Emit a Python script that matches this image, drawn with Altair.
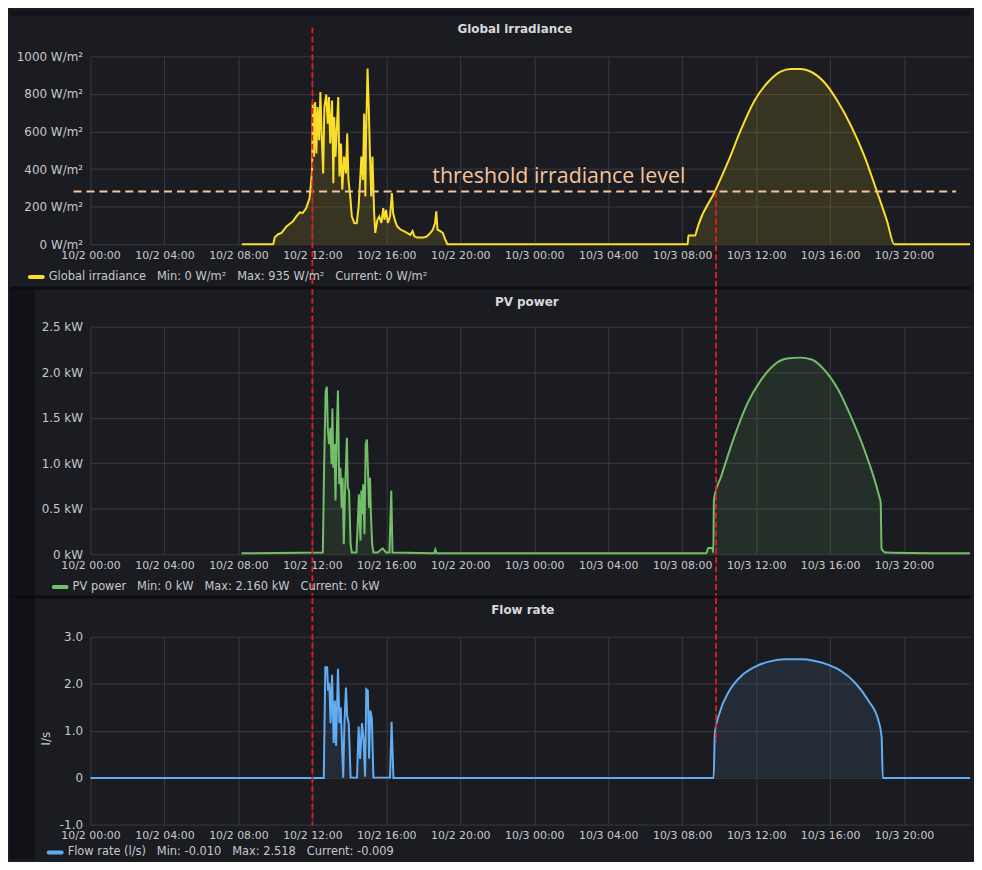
import altair as alt
import pandas as pd

YEAR = 2023

# ---------------- data ----------------
tick_labels = ["10/2 00:00", "10/2 04:00", "10/2 08:00", "10/2 12:00", "10/2 16:00", "10/2 20:00",
               "10/3 00:00", "10/3 04:00", "10/3 08:00", "10/3 12:00", "10/3 16:00", "10/3 20:00"]
x_start, x_end = "10/2 00:00", "10/3 23:34"

# Global irradiance (W/m²)
irr_day1_t = ["10/2 08:11", "10/2 09:53", "10/2 09:58", "10/2 10:09", "10/2 10:20", "10/2 10:36", "10/2 10:46",
              "10/2 10:57", "10/2 11:08", "10/2 11:19", "10/2 11:29", "10/2 11:40", "10/2 11:51", "10/2 11:56",
              "10/2 11:59", "10/2 12:01", "10/2 12:05", "10/2 12:09", "10/2 12:13", "10/2 12:17", "10/2 12:22",
              "10/2 12:26", "10/2 12:30", "10/2 12:35", "10/2 12:39", "10/2 12:45", "10/2 12:50", "10/2 12:54",
              "10/2 12:58", "10/2 13:04", "10/2 13:08", "10/2 13:11", "10/2 13:15", "10/2 13:20", "10/2 13:24",
              "10/2 13:28", "10/2 13:33", "10/2 13:37", "10/2 13:43", "10/2 13:49", "10/2 13:53", "10/2 13:57",
              "10/2 14:03", "10/2 14:08", "10/2 14:16", "10/2 14:24", "10/2 14:30", "10/2 14:35", "10/2 14:39",
              "10/2 14:44", "10/2 14:48", "10/2 14:52", "10/2 14:54", "10/2 14:59", "10/2 15:03", "10/2 15:07",
              "10/2 15:11", "10/2 15:15", "10/2 15:20", "10/2 15:24", "10/2 15:31", "10/2 15:37", "10/2 15:44",
              "10/2 15:50", "10/2 15:54", "10/2 15:59", "10/2 16:05", "10/2 16:12", "10/2 16:18", "10/2 16:22",
              "10/2 16:29", "10/2 16:35", "10/2 16:46", "10/2 16:57", "10/2 17:07", "10/2 17:18", "10/2 17:25",
              "10/2 17:31", "10/2 17:40", "10/2 17:50", "10/2 18:01", "10/2 18:12", "10/2 18:23", "10/2 18:31",
              "10/2 18:38", "10/2 18:42", "10/2 18:46", "10/2 18:55", "10/2 19:03", "10/2 19:10", "10/2 19:18",
              "10/3 00:00"]
irr_day1_v = [0, 0, 37, 53, 60, 95, 107,
              122, 148, 169, 166, 192, 245, 333,
              395, 748, 466, 757, 483, 730, 554,
              810, 589, 377, 730, 797, 642, 783,
              536, 765, 325, 677, 466, 642, 783,
              360, 536, 290, 466, 377, 589, 342,
              254, 148, 113, 112, 201, 342, 466,
              342, 695, 254, 554, 935, 730, 466,
              254, 466, 183, 60, 130, 148, 113,
              192, 130, 183, 113, 148, 272, 166,
              121, 95, 78, 70, 60, 50, 70,
              42, 35, 35, 35, 42, 60, 78,
              113, 175, 78, 70, 60, 30, 0,
              0]
irr_day2_t = ["10/3 00:00", "10/3 08:18", "10/3 08:20", "10/3 08:42", "10/3 08:47", "10/3 08:53", "10/3 09:46",
              "10/3 10:29", "10/3 11:12", "10/3 11:55", "10/3 12:38", "10/3 13:21", "10/3 13:53", "10/3 14:26",
              "10/3 14:58", "10/3 15:41", "10/3 16:23", "10/3 17:07", "10/3 17:50", "10/3 18:32", "10/3 19:05",
              "10/3 19:28", "10/3 23:34"]
irr_day2_v = [0, 0, 46, 46, 72, 104, 280,
              439, 615, 765, 862, 920, 933, 933,
              918, 862, 765, 633, 474, 280, 122,
              0, 0]
irr_threshold = 280

# PV power (kW)
pv_day1_t = ["10/2 08:10", "10/2 12:34", "10/2 12:38", "10/2 12:43", "10/2 12:47", "10/2 12:50", "10/2 12:54",
             "10/2 12:59", "10/2 13:02", "10/2 13:05", "10/2 13:08", "10/2 13:12", "10/2 13:15", "10/2 13:19",
             "10/2 13:23", "10/2 13:27", "10/2 13:31", "10/2 13:35", "10/2 13:38", "10/2 13:42", "10/2 13:46",
             "10/2 13:49", "10/2 13:52", "10/2 13:55", "10/2 13:59", "10/2 14:04", "10/2 14:08", "10/2 14:23",
             "10/2 14:28", "10/2 14:31", "10/2 14:36", "10/2 14:39", "10/2 14:42", "10/2 14:45", "10/2 14:49",
             "10/2 14:53", "10/2 14:57", "10/2 15:00", "10/2 15:04", "10/2 15:07", "10/2 15:10", "10/2 15:14",
             "10/2 15:18", "10/2 15:32", "10/2 15:48", "10/2 15:59", "10/2 16:10", "10/2 16:16", "10/2 16:20",
             "10/2 18:35", "10/2 18:39", "10/2 18:43", "10/3 00:00"]
pv_day1_v = [0.01, 0.02, 0.95, 1.79, 1.84, 1.39, 1.21,
             1.39, 0.99, 1.60, 0.95, 1.21, 0.59, 1.31,
             1.80, 0.77, 0.95, 0.51, 0.84, 0.11, 0.70,
             0.99, 1.28, 0.73, 0.70, 0.11, 0.02, 0.02,
             0.40, 0.66, 0.15, 0.70, 0.44, 0.77, 0.22,
             1.21, 1.26, 0.95, 0.51, 0.84, 0.44, 0.11,
             0.02, 0.02, 0.065, 0.02, 0.02, 0.70, 0.02,
             0.01, 0.05, 0.01, 0.01]
pv_day2_t = ["10/3 00:00", "10/3 09:19", "10/3 09:24", "10/3 09:37", "10/3 09:41", "10/3 09:43", "10/3 10:07",
             "10/3 10:50", "10/3 11:32", "10/3 12:15", "10/3 12:58", "10/3 13:40", "10/3 14:23", "10/3 15:00",
             "10/3 15:43", "10/3 16:26", "10/3 17:08", "10/3 17:51", "10/3 18:39", "10/3 18:44", "10/3 18:47",
             "10/3 19:00", "10/3 23:34"]
pv_day2_v = [0.01, 0.01, 0.07, 0.07, 0.02, 0.60, 0.86,
             1.30, 1.66, 1.91, 2.08, 2.15, 2.16, 2.14,
             2.02, 1.81, 1.51, 1.15, 0.64, 0.57, 0.06,
             0.02, 0.01]

# Flow rate (l/s)
flow_day1_t = ["10/2 00:00", "10/2 12:37", "10/2 12:42", "10/2 12:48", "10/2 12:51", "10/2 12:55", "10/2 12:59",
               "10/2 13:04", "10/2 13:09", "10/2 13:13", "10/2 13:17", "10/2 13:23", "10/2 13:28", "10/2 13:32",
               "10/2 13:36", "10/2 13:40", "10/2 13:44", "10/2 13:49", "10/2 13:53", "10/2 13:58", "10/2 14:04",
               "10/2 14:25", "10/2 14:30", "10/2 14:35", "10/2 14:41", "10/2 14:46", "10/2 14:51", "10/2 14:55",
               "10/2 15:00", "10/2 15:04", "10/2 15:08", "10/2 15:13", "10/2 15:18", "10/2 16:12", "10/2 16:17",
               "10/2 16:23", "10/3 00:00"]
flow_day1_v = [-0.01, -0.01, 2.35, 2.35, 1.85, 2.02, 1.16,
               2.19, 0.74, 1.64, 0.68, 2.32, 1.16, 1.50,
               0.74, 0.0, 1.16, 1.92, 1.30, 1.16, 0.0,
               0.0, 1.09, 0.40, 1.16, 0.81, 0.02, 1.88,
               1.85, 0.40, 1.43, 1.26, 0.0, 0.0, 1.19,
               -0.01, -0.01]
flow_day2_t = ["10/3 00:00", "10/3 09:42", "10/3 09:46", "10/3 10:01", "10/3 10:33", "10/3 11:16", "10/3 11:59",
               "10/3 12:42", "10/3 13:35", "10/3 14:29", "10/3 15:07", "10/3 15:55", "10/3 16:38", "10/3 17:21",
               "10/3 18:04", "10/3 18:36", "10/3 18:47", "10/3 18:51", "10/3 23:34"]
flow_day2_v = [-0.01, -0.01, 0.95, 1.37, 1.85, 2.19, 2.37,
               2.47, 2.52, 2.52, 2.49, 2.40, 2.26, 2.02,
               1.64, 1.23, 0.88, -0.01, -0.01]

marker_times = ["10/2 12:00", "10/3 09:50"]

irr_ticks = [0, 200, 400, 600, 800, 1000]
pv_ticks = [0, 0.5, 1.0, 1.5, 2.0, 2.5]
flow_ticks = [-1, 0, 1, 2, 3]

titles = ["Global irradiance", "PV power", "Flow rate"]
NB = "\u00a0\u00a0\u00a0"
legend_texts = [
    NB.join(["Global irradiance", "Min: 0 W/m²", "Max: 935 W/m²", "Current: 0 W/m²"]),
    NB.join(["PV power", "Min: 0 kW", "Max: 2.160 kW", "Current: 0 kW"]),
    NB.join(["Flow rate (l/s)", "Min: -0.010", "Max: 2.518", "Current: -0.009"]),
]
threshold_label = "threshold irradiance level"

# ---------------- styling ----------------
W = 885
BG = "#1b1c21"
STRIP = "#111217"
SEP = "#0c0d10"
GRID = "#393a3f"
LABEL = "#c7c8cc"
FONT = "DejaVu Sans"
YELLOW = "#fade2a"
GREEN = "#73bf69"
BLUE = "#62acf2"
RED = "#ea1a1f"
PEACH = "#f4c49c"


def iso(s):
    d, hm = s.split(" ")
    mo, da = d.split("/")
    return f"{YEAR}-{int(mo):02d}-{int(da):02d}T{hm}:00"


def to_dt(s):
    d, hm = s.split(" ")
    mo, da = d.split("/")
    hh, mm = hm.split(":")
    return alt.DateTime(year=YEAR, month=int(mo), date=int(da), hours=int(hh), minutes=int(mm))


def frame(times, vals):
    return pd.DataFrame({"t": [iso(s) for s in times], "v": vals})


one = pd.DataFrame({"k": [0]})


def xenc():
    return alt.X("t:T", title=None,
                 scale=alt.Scale(domain=[to_dt(x_start), to_dt(x_end)]),
                 axis=alt.Axis(values=[to_dt(s) for s in tick_labels], format="%-m/%-d %H:%M",
                               grid=True, gridColor=GRID, gridWidth=1, ticks=False, domain=False,
                               labelFont=FONT, labelFontSize=11, labelColor=LABEL, labelPadding=5,
                               labelFlush=False, labelOverlap=False, labelBound=False))


def yenc(domain, ticks, expr):
    return alt.Y("v:Q", title=None,
                 scale=alt.Scale(domain=domain, nice=False, zero=False),
                 axis=alt.Axis(values=ticks, labelExpr=expr, grid=True, gridColor=GRID, gridWidth=1,
                               ticks=False, domain=False, labelFont=FONT, labelFontSize=12,
                               labelColor=LABEL, labelPadding=8, labelOverlap=False))


def series_layers(d1, d2, color, fill_op, domain, ticks, expr):
    layers = []
    for df, interp in ((d1, "linear"), (d2, "monotone")):
        layers.append(alt.Chart(df).mark_area(color=color, opacity=fill_op, interpolate=interp).encode(
            x=xenc(), y=yenc(domain, ticks, expr), y2=alt.datum(0)))
    for df, interp in ((d1, "linear"), (d2, "monotone")):
        layers.append(alt.Chart(df).mark_line(color=color, strokeWidth=2, interpolate=interp).encode(
            x=xenc(), y=yenc(domain, ticks, expr)))
    return layers


def rect(x1, x2, y1, y2, color):
    return alt.Chart(one).mark_rect(color=color).encode(
        x=alt.value(x1), x2=alt.value(x2), y=alt.value(y1), y2=alt.value(y2))


def hline(x1, x2, y, color, width):
    return alt.Chart(one).mark_rule(color=color, strokeWidth=width).encode(
        x=alt.value(x1), x2=alt.value(x2), y=alt.value(y))


def text(x, y, s, size, color, weight="normal", align="left", font=FONT, angle=0):
    return alt.Chart(one).mark_text(align=align, baseline="middle", font=font, fontSize=size,
                                    fontWeight=weight, color=color, angle=angle).encode(
        x=alt.value(x), y=alt.value(y), text=alt.value(s))


def marker(tstr, y1, y2):
    return alt.Chart(pd.DataFrame({"t": [iso(tstr)]})).mark_rule(
        color=RED, strokeWidth=1.8, strokeDash=[6, 3]).encode(x=alt.X("t:T"), y=y1, y2=y2)


def legend(xd, y, color, s):
    return [
        alt.Chart(one).mark_rule(color=color, strokeWidth=4, strokeCap="round").encode(
            x=alt.value(xd), x2=alt.value(xd + 13), y=alt.value(y)),
        text(xd + 19, y, s, 11.5, LABEL),
    ]


# ---------------- panel 1: Global irradiance ----------------
H1 = 189
irr_dom = [0, 1000]
irr_expr = "datum.value + ' W/m²'"
thr_df = pd.DataFrame({"v": [irr_threshold]})
thr_marker_df = pd.DataFrame({"t": [iso(marker_times[1])], "v": [irr_threshold]})
p1_layers = [rect(-81, W, -46, -41, STRIP)]
p1_layers += series_layers(frame(irr_day1_t, irr_day1_v), frame(irr_day2_t, irr_day2_v),
                           YELLOW, 0.13, irr_dom, irr_ticks, irr_expr)
p1_layers += [
    alt.Chart(thr_df).mark_rule(color=PEACH, strokeWidth=2, strokeDash=[8, 5]).encode(
        x=alt.value(-17), x2=alt.value(871), y=yenc(irr_dom, irr_ticks, irr_expr)),
    alt.Chart(thr_df).mark_text(align="left", baseline="alphabetic", dy=-9, font="Open Sans",
                                fontSize=21.5, color=PEACH).encode(
        x=alt.value(344), y=yenc(irr_dom, irr_ticks, irr_expr), text=alt.value(threshold_label)),
    marker(marker_times[0], alt.value(-29), alt.value(H1 + 44)),
    alt.Chart(thr_marker_df).mark_rule(color=RED, strokeWidth=1.8, strokeDash=[6, 3]).encode(
        x=alt.X("t:T"), y=yenc(irr_dom, irr_ticks, irr_expr), y2=alt.value(H1 + 44)),
    text(427, -28, titles[0], 12, "#d8d9da", weight="bold", align="center"),
]
p1_layers += legend(-61, H1 + 33, YELLOW, legend_texts[0])
p1 = alt.layer(*p1_layers).properties(width=W, height=H1)

# ---------------- panel 2: PV power ----------------
H2 = 229
pv_expr = "datum.value == 0 ? '0 kW' : format(datum.value, '.1f') + ' kW'"
p2_layers = [rect(-81, -56, -38, H2 + 43, STRIP), hline(-81, W, -39, SEP, 3)]
p2_layers += series_layers(frame(pv_day1_t, pv_day1_v), frame(pv_day2_t, pv_day2_v),
                           GREEN, 0.12, [0, 2.5], pv_ticks, pv_expr)
p2_layers += [
    marker(marker_times[0], alt.value(-38), alt.value(H2 + 43)),
    marker(marker_times[1], alt.value(-38), alt.value(H2 + 43)),
    text(439, -25, titles[1], 12, "#d8d9da", weight="bold", align="center"),
]
p2_layers += legend(-37, H2 + 33, GREEN, legend_texts[1])
p2 = alt.layer(*p2_layers).properties(width=W, height=H2)

# ---------------- panel 3: Flow rate ----------------
H3 = 189
flow_expr = "datum.value == 0 ? '0' : (datum.value < 0 ? '-' : '') + format(abs(datum.value), '.1f')"
p3_layers = [rect(-81, -56, -40, H3 + 35, STRIP), hline(-81, W, -40, SEP, 3)]
p3_layers += series_layers(frame(flow_day1_t, flow_day1_v), frame(flow_day2_t, flow_day2_v),
                           BLUE, 0.1, [-1, 3], flow_ticks, flow_expr)
p3_layers += [
    marker(marker_times[0], alt.value(-39), alt.value(H3 + 1)),
    marker(marker_times[1], alt.value(-39), alt.value(107)),
    text(435, -27, titles[2], 12, "#d8d9da", weight="bold", align="center"),
    text(-45, H3 / 2 + 8, "l/s", 12, LABEL, align="center", angle=270),
]
p3_layers += legend(-42, H3 + 28, BLUE, legend_texts[2])
p3 = alt.layer(*p3_layers).properties(width=W, height=H3)

chart = alt.vconcat(p1, p2, p3, spacing=83, bounds="flush",
                    padding={"left": 0, "top": 0, "right": 0, "bottom": 0}).configure(
    background=BG
).configure_view(strokeOpacity=0)

chart.save("out.html", embed_options={"renderer": "svg", "actions": False})
